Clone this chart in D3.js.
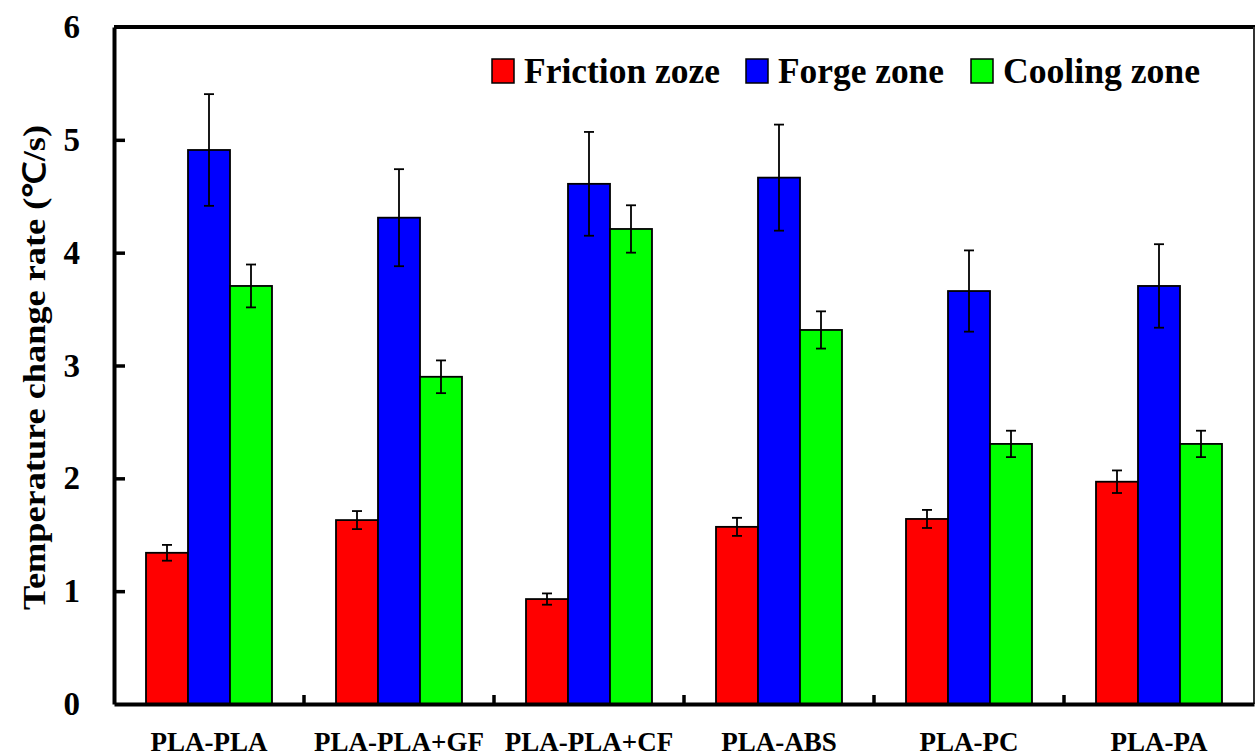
<!DOCTYPE html>
<html>
<head>
<meta charset="utf-8">
<script src="https://cdn.jsdelivr.net/npm/d3@7/dist/d3.min.js"></script>
<style>
  html, body { margin: 0; padding: 0; background: #fff; }
  svg { display: block; }
  text { font-family: "Liberation Serif", "Times New Roman", serif; font-weight: bold; fill: #000; }
</style>
</head>
<body>
<svg id="chart" width="1255" height="756"></svg>
<script>
// Sample pairs
const categories = ["PLA-PLA", "PLA-PLA+GF", "PLA-PLA+CF", "PLA-ABS", "PLA-PC", "PLA-PA"];

// Series names and fills
const seriesNames = ["Friction zoze", "Forge zone", "Cooling zone"];
const seriesColors = ["#ff0000", "#0000ff", "#00ff00"];

// Mean temperature change rate (°C/s)
const frictionValues = [1.34, 1.63, 0.93, 1.57, 1.64, 1.97];
const forgeValues    = [4.91, 4.31, 4.61, 4.665, 3.66, 3.705];
const coolingValues  = [3.705, 2.90, 4.21, 3.315, 2.305, 2.305];

// Error bar half-lengths
const frictionErrors = [0.07, 0.08, 0.05, 0.08, 0.08, 0.10];
const forgeErrors    = [0.495, 0.43, 0.46, 0.47, 0.36, 0.37];
const coolingErrors  = [0.19, 0.145, 0.21, 0.165, 0.117, 0.117];

// Y axis ticks
const yTicks = [0, 1, 2, 3, 4, 5, 6];

const seriesValues = [frictionValues, forgeValues, coolingValues];
const seriesErrors = [frictionErrors, forgeErrors, coolingErrors];

const FONT = "Liberation Serif, Times New Roman, serif";
const svg = d3.select("#chart");
const plotL = 114, plotR = 1254, plotT = 27, plotB = 704;

const x0 = d3.scaleBand().domain(categories).range([plotL, plotR]).padding(0);
const x1 = d3.scaleBand().domain(d3.range(seriesNames.length))
  .range([32, x0.bandwidth() - 32]).padding(0);
const y = d3.scaleLinear().domain([0, 6]).range([plotB, plotT]);

// Bars
const rows = [];
categories.forEach((c, i) => {
  seriesNames.forEach((s, k) => {
    rows.push({ cat: c, k, v: seriesValues[k][i], e: seriesErrors[k][i] });
  });
});

const g = svg.append("g");
g.selectAll("rect.bar").data(rows).enter().append("rect")
  .attr("class", "bar")
  .attr("x", d => x0(d.cat) + x1(d.k))
  .attr("y", d => y(d.v))
  .attr("width", x1.bandwidth())
  .attr("height", d => y(0) - y(d.v))
  .attr("fill", d => seriesColors[d.k])
  .attr("stroke", "#000")
  .attr("stroke-width", 1.8);

// Error bars
const eb = g.selectAll("g.err").data(rows).enter().append("g")
  .attr("class", "err")
  .attr("stroke", "#000")
  .attr("stroke-width", 1.8);
const cx = d => x0(d.cat) + x1(d.k) + x1.bandwidth() / 2;
eb.append("line")
  .attr("x1", cx).attr("x2", cx)
  .attr("y1", d => y(d.v + d.e)).attr("y2", d => y(d.v - d.e));
eb.append("line")
  .attr("x1", d => cx(d) - 5).attr("x2", d => cx(d) + 5)
  .attr("y1", d => y(d.v + d.e)).attr("y2", d => y(d.v + d.e));
eb.append("line")
  .attr("x1", d => cx(d) - 5).attr("x2", d => cx(d) + 5)
  .attr("y1", d => y(d.v - d.e)).attr("y2", d => y(d.v - d.e));

// Frame: top heavy, right lighter
svg.append("line").attr("x1", plotL).attr("x2", plotR + 1).attr("y1", plotT).attr("y2", plotT)
  .attr("stroke", "#000").attr("stroke-width", 4);
svg.append("line").attr("x1", plotR).attr("x2", plotR).attr("y1", plotT).attr("y2", plotB)
  .attr("stroke", "#333").attr("stroke-width", 2);

// Y axis with inward ticks
const yAxis = d3.axisLeft(y).tickValues(yTicks).tickSize(0).tickPadding(34).tickFormat(d3.format("d"));
const ya = svg.append("g").attr("transform", `translate(${plotL},0)`).call(yAxis);
ya.attr("font-family", FONT);
ya.select(".domain").attr("stroke", "#000").attr("stroke-width", 4);
ya.selectAll("text").attr("font-size", 33).attr("font-weight", "bold")
  .attr("font-family", FONT).attr("fill", "#000");
ya.selectAll(".tick").filter(d => d > 0 && d < 6).append("line")
  .attr("x1", 0).attr("x2", 11).attr("stroke", "#000").attr("stroke-width", 3.5);

// X axis with category labels and upward ticks at group boundaries
const xAxis = d3.axisBottom(x0).tickSize(0).tickPadding(28);
const xa = svg.append("g").attr("transform", `translate(0,${plotB})`).call(xAxis);
xa.attr("font-family", FONT);
xa.select(".domain").attr("stroke", "#000").attr("stroke-width", 4);
xa.selectAll("text").attr("font-size", 27).attr("font-weight", "bold")
  .attr("font-family", FONT).attr("fill", "#000");
xa.selectAll("line.sep").data(categories.slice(1)).enter().append("line")
  .attr("class", "sep")
  .attr("x1", d => x0(d)).attr("x2", d => x0(d))
  .attr("y1", 0).attr("y2", -9)
  .attr("stroke", "#000").attr("stroke-width", 3.5);

// Y axis title
svg.append("text")
  .attr("transform", `translate(45,${(plotT + plotB) / 2 + 2}) rotate(-90)`)
  .attr("text-anchor", "middle")
  .attr("font-family", FONT)
  .attr("font-size", 31)
  .attr("font-weight", "bold")
  .attr("textLength", 485)
  .attr("lengthAdjust", "spacingAndGlyphs")
  .text("Temperature change rate (℃/s)");

// Legend
const legendX = [492, 746, 971];
const legendW = [196, 166, 197];
const lg = svg.selectAll("g.legend").data(seriesNames).enter().append("g")
  .attr("class", "legend")
  .attr("transform", (d, i) => `translate(${legendX[i]},59)`);
lg.append("rect").attr("width", 22).attr("height", 24)
  .attr("fill", (d, i) => seriesColors[i]).attr("stroke", "#000").attr("stroke-width", 1.5);
lg.append("text").attr("x", 32).attr("y", 24)
  .attr("font-family", FONT)
  .attr("font-size", 36).attr("font-weight", "bold")
  .attr("textLength", (d, i) => legendW[i])
  .attr("lengthAdjust", "spacingAndGlyphs")
  .text(d => d);
</script>
</body>
</html>
